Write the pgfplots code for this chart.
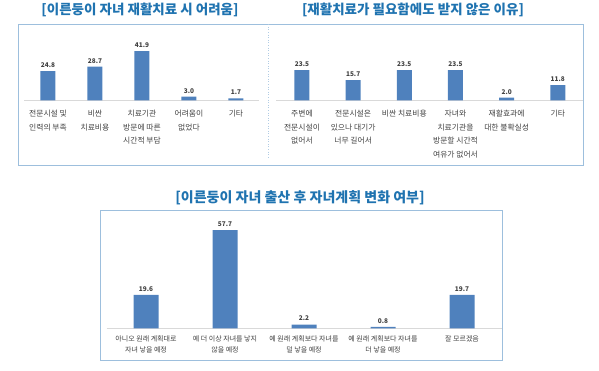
\documentclass[border=0pt]{standalone}
\usepackage{pgfplots}
\pgfplotsset{compat=1.18}
\usepackage{fontspec}
\setmainfont{Noto Sans CJK KR}
\definecolor{barblue}{HTML}{4F81BD}
\definecolor{titleblue}{HTML}{1F73B0}
\definecolor{boxblue}{HTML}{9DBFDD}
\definecolor{labgray}{HTML}{404040}
\definecolor{basegray}{HTML}{D9D9D9}
\pgfplotsset{
  mybars/.style={
    scale only axis,
    ybar, ymin=0,
    axis x line*=bottom, axis y line=none,
    x axis line style={basegray, line width=0.8pt},
    xtick=data, xtick style={draw=none},
    xticklabel style={align=center, font=\fontsize{7.8}{13.5}\selectfont, text=labgray, anchor=north, inner sep=1pt, yshift=-4.5pt},
    nodes near coords,
    nodes near coords style={font=\fontsize{6.5}{7}\selectfont\bfseries, text=labgray, /pgf/number format/fixed, /pgf/number format/fixed zerofill, /pgf/number format/precision=1},
    clip=false,
    /pgf/number format/assume math mode=true,
  }
}
\begin{document}
\begin{tikzpicture}[x=1pt,y=1pt]
\path (0,0) rectangle (599,368);
% boxes
\draw[boxblue, line width=0.8pt] (18,368-22) rectangle (583,368-163);
\draw[boxblue!80, dotted, line width=0.6pt] (268,368-22) -- (268,368-156);
\draw[boxblue, line width=0.8pt] (100,368-208) rectangle (502,368-358);
% titles
\node[text=titleblue, font=\fontsize{13.5}{13.5}\selectfont\bfseries] at (140,368-8) {[이른둥이 자녀 재활치료 시 어려움]};
\node[text=titleblue, font=\fontsize{13.5}{13.5}\selectfont\bfseries] at (413,368-8) {[재활치료가 필요함에도 받지 않은 이유]};
\node[text=titleblue, font=\fontsize{14}{14}\selectfont\bfseries] at (300,368-196) {[이른둥이 자녀 출산 후 자녀계획 변화 여부]};
% left chart
\begin{axis}[mybars, at={(24.5pt,270pt)}, anchor=south west,
  width=235pt, height=58.5pt, xmin=-0.5, xmax=4.5, ymax=50,
  bar width=15pt,
  xticklabels={전문시설 및\\인력의 부족, 비싼\\치료비용, 치료기관\\방문에 따른\\시간적 부담, 어려움이\\없었다, 기타}]
\addplot[fill=barblue, draw=none] coordinates {(0,24.8) (1,28.7) (2,41.9) (3,3.0) (4,1.7)};
\end{axis}
% right chart
\begin{axis}[mybars, at={(276.4pt,270pt)}, anchor=south west,
  width=307pt, height=38.4pt, xmin=-0.5, xmax=5.5, ymax=30,
  bar width=15pt,
  xticklabels={주변에\\전문시설이\\없어서, 전문시설은\\있으나 대기가\\너무 길어서, 비싼 치료비용, 자녀와\\치료기관을\\방문할 시간적\\여유가 없어서, 재활효과에\\대한 불확실성, 기타}]
\addplot[fill=barblue, draw=none] coordinates {(0,23.5) (1,15.7) (2,23.5) (3,23.5) (4,2.0) (5,11.8)};
\end{axis}
% bottom chart
\begin{axis}[mybars, at={(106.5pt,42pt)}, anchor=south west,
  width=395pt, height=102pt, xmin=-0.5, xmax=4.5, ymax=60,
  bar width=25pt,
  xticklabel style={font=\fontsize{7}{11.5}\selectfont, yshift=3pt},
  xticklabels={아니오 원래 계획대로\\자녀 낳을 예정, 예 더 이상 자녀를 낳지\\않을 예정, 예 원래 계획보다 자녀를\\덜 낳을 예정, 예 원래 계획보다 자녀를\\더 낳을 예정, 잘 모르겠음}]
\addplot[fill=barblue, draw=none] coordinates {(0,19.6) (1,57.7) (2,2.2) (3,0.8) (4,19.7)};
\end{axis}
\end{tikzpicture}
\end{document}
